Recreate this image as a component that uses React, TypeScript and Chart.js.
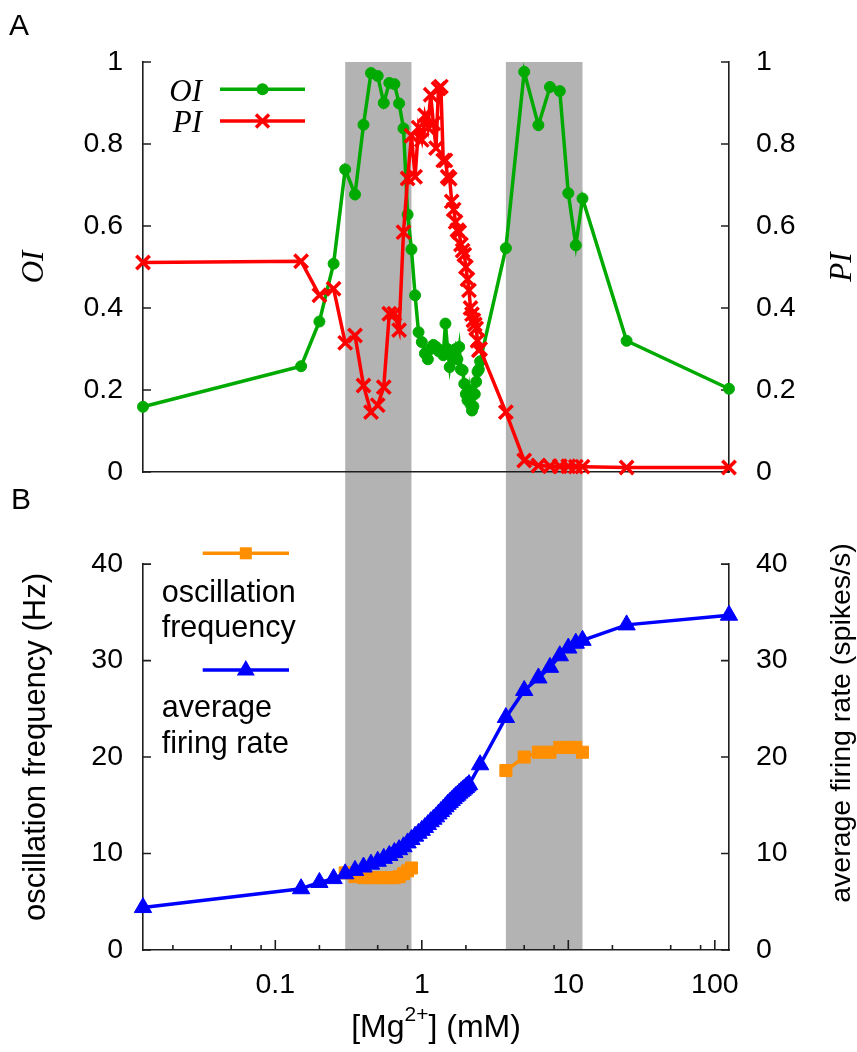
import React, { useEffect, useRef } from 'react';
import { Chart, registerables } from 'chart.js';

Chart.register(...registerables);

// ---------------- data ----------------
// [Mg2+] (mM) values of the top panel sweep
const mgTop = [
  0.0125, 0.15, 0.2, 0.25,
  0.3, 0.35, 0.4, 0.45, 0.5, 0.55, 0.6, 0.65, 0.7, 0.75,
  0.8, 0.85, 0.9, 0.95, 1.0, 1.05, 1.1, 1.15, 1.2, 1.25,
  1.3, 1.35, 1.4, 1.45, 1.5, 1.55, 1.6, 1.65, 1.7, 1.75,
  1.8, 1.85, 1.9, 1.95, 2.0, 2.05, 2.1, 2.15, 2.2, 2.25,
  2.3, 2.35, 2.4, 2.45, 2.5,
  3.75, 5, 6.25, 7.5, 8.75, 10, 11.25, 12.5, 25, 125,
];
const oiValues = [
  0.159, 0.258, 0.367, 0.508,
  0.738, 0.677, 0.847, 0.973, 0.966, 0.9, 0.949, 0.946, 0.899, 0.838,
  0.628, 0.543, 0.431, 0.341, 0.317, 0.289, 0.275, 0.3, 0.31, 0.305,
  0.295, 0.297, 0.285, 0.362, 0.3, 0.256, 0.29, 0.28, 0.3, 0.275,
  0.305, 0.25, 0.248, 0.215, 0.19, 0.175, 0.2, 0.165, 0.15, 0.16,
  0.19, 0.22, 0.245, 0.25, 0.27,
  0.546, 0.976, 0.846, 0.939, 0.929, 0.68, 0.553, 0.667, 0.32, 0.203,
];
const piValues = [
  0.511, 0.514, 0.431, 0.447,
  0.315, 0.333, 0.211, 0.146, 0.163, 0.207, 0.386, 0.386, 0.346, 0.585,
  0.716, 0.82, 0.72, 0.84, 0.81, 0.87, 0.84, 0.92, 0.85, 0.79,
  0.935, 0.94, 0.76, 0.76, 0.72, 0.715, 0.66, 0.64, 0.61, 0.59,
  0.585, 0.555, 0.54, 0.53, 0.5, 0.47, 0.443, 0.4, 0.385, 0.37,
  0.36, 0.35, 0.32, 0.297, 0.3,
  0.146, 0.028, 0.016, 0.014, 0.014, 0.014, 0.013, 0.013, 0.011, 0.011,
];

// bottom panel: average firing rate
const mgRate = [
  0.0125, 0.15, 0.2, 0.25,
  0.3, 0.35, 0.4, 0.45, 0.5, 0.55, 0.6, 0.65, 0.7, 0.75,
  0.8, 0.85, 0.9, 0.95, 1.0, 1.05, 1.1, 1.15, 1.2, 1.25,
  1.3, 1.35, 1.4, 1.45, 1.5, 1.55, 1.6, 1.65, 1.7, 1.75,
  1.8, 1.85, 1.9, 1.95, 2.0, 2.05, 2.1,
  2.5, 3.75, 5, 6.25, 7.5, 8.75, 10, 11.25, 12.5, 25, 125,
];
const rateValues = [
  4.4, 6.35, 7.0, 7.4,
  7.9, 8.25, 8.6, 8.9, 9.2, 9.5, 9.8, 10.1, 10.4, 10.7,
  11.1, 11.45, 11.8, 12.1, 12.4, 12.7, 13.0, 13.3, 13.55, 13.8,
  14.1, 14.35, 14.6, 14.85, 15.1, 15.3, 15.5, 15.7, 15.9, 16.05,
  16.25, 16.4, 16.55, 16.7, 16.85, 17.0, 17.15,
  19.2, 24.1, 26.9, 28.2, 29.3, 30.5, 31.3, 31.8, 32.1, 33.7, 34.7,
];

// bottom panel: oscillation frequency (two separate oscillatory regimes)
const mgFreqLow = [0.3, 0.35, 0.4, 0.45, 0.5, 0.55, 0.6, 0.65, 0.7, 0.75, 0.8, 0.85];
const freqLow = [8.0, 7.6, 7.5, 7.5, 7.5, 7.5, 7.5, 7.5, 7.6, 7.9, 8.2, 8.5];
const mgFreqHigh = [3.75, 5, 6.25, 7.5, 8.75, 10, 11.25, 12.5];
const freqHigh = [18.6, 20.0, 20.5, 20.5, 21.0, 21.0, 21.0, 20.5];

// shaded oscillatory ranges
const bandStart = [0.3, 3.75];
const bandEnd = [0.85, 12.5];

// ticks
const xMin = 0.0125;
const xMax = 125;
const xMajorTicks = [0.1, 1, 10, 100];
const xMinorTicks = [0.02, 0.05, 0.08, 0.2, 0.5, 0.8, 2, 5, 8, 20, 50, 80];
const indexTicks = [0, 0.2, 0.4, 0.6, 0.8, 1];
const rateTicks = [0, 10, 20, 30, 40];

// ---------------- styles ----------------
const W = 857;
const TOP_H = 520;
const BOTTOM_H = 532;
const SANS = '"Liberation Sans", Arial, Helvetica, sans-serif';
const SERIF = '"Liberation Serif", "Times New Roman", serif';
const AXIS = '#1e1e1e';
const GREEN = '#00aa00';
const RED = '#ff0000';
const BLUE = '#0000ff';
const ORANGE = '#ff8f00';
const BAND = '#b3b3b3';
const TICK_FONT = { family: SANS, size: 28.5 };
const LINE_W = 3.5;

const fmtIndex = (v: number) => String(+Number(v).toFixed(1));
const fmtPlain = (v: number) => String(v);

function yAxis(position: string, ticks: number[], padding: number, width: number, fmt: any) {
  return {
    type: 'linear',
    position,
    min: ticks[0],
    max: ticks[ticks.length - 1],
    grid: { display: false, drawTicks: false },
    border: { display: true, color: AXIS, width: 1.6 },
    ticks: { color: '#000', font: TICK_FONT, padding, callback: fmt },
    afterBuildTicks: (s: any) => {
      s.ticks = ticks.map((v) => ({ value: v }));
    },
    afterFit: (s: any) => {
      s.width = width;
    },
  };
}

function drawBands(chart: any, y0: number, y1: number) {
  const { ctx, scales } = chart;
  const x = scales.x;
  ctx.save();
  ctx.fillStyle = BAND;
  bandStart.forEach((s, i) => {
    const a = x.getPixelForValue(s);
    const b = x.getPixelForValue(bandEnd[i]);
    ctx.fillRect(a, y0, b - a, y1 - y0);
  });
  ctx.restore();
}

function drawYTicks(chart: any, id: string, values: number[], side: 'left' | 'right', len: number) {
  const { ctx, chartArea } = chart;
  const s = chart.scales[id];
  ctx.save();
  ctx.strokeStyle = AXIS;
  ctx.lineWidth = 1.6;
  ctx.beginPath();
  values.forEach((v) => {
    const y = s.getPixelForValue(v);
    if (side === 'left') {
      ctx.moveTo(chartArea.left, y);
      ctx.lineTo(chartArea.left + len, y);
    } else {
      ctx.moveTo(chartArea.right, y);
      ctx.lineTo(chartArea.right - len, y);
    }
  });
  ctx.stroke();
  ctx.restore();
}

function drawRotated(ctx: any, text: string, x: number, y: number, font: string) {
  ctx.save();
  ctx.translate(x, y);
  ctx.rotate(-Math.PI / 2);
  ctx.font = font;
  ctx.fillStyle = '#000';
  ctx.textAlign = 'center';
  ctx.textBaseline = 'alphabetic';
  ctx.fillText(text, 0, 0);
  ctx.restore();
}

function drawLegendLine(ctx: any, x0: number, x1: number, y: number, color: string) {
  ctx.save();
  ctx.strokeStyle = color;
  ctx.lineWidth = LINE_W;
  ctx.beginPath();
  ctx.moveTo(x0, y);
  ctx.lineTo(x1, y);
  ctx.stroke();
  ctx.restore();
}

const topDecor = {
  id: 'topDecor',
  beforeDraw(chart: any) {
    drawBands(chart, chart.chartArea.top, chart.height);
  },
  beforeDatasetsDraw(chart: any) {
    drawYTicks(chart, 'y', indexTicks, 'left', 8);
    drawYTicks(chart, 'y2', indexTicks, 'right', 8);
  },
  afterDraw(chart: any) {
    const { ctx } = chart;
    // panel letters
    ctx.save();
    ctx.fillStyle = '#000';
    ctx.font = `30px ${SANS}`;
    ctx.textAlign = 'left';
    ctx.textBaseline = 'alphabetic';
    ctx.fillText('A', 9, 35);
    ctx.fillText('B', 11, 509);
    // legend
    ctx.font = `italic 31px ${SERIF}`;
    ctx.textAlign = 'right';
    ctx.fillText('OI', 202, 100.5);
    ctx.fillText('PI', 202, 131.5);
    ctx.restore();
    drawLegendLine(ctx, 220, 305, 89.3, GREEN);
    ctx.save();
    ctx.fillStyle = GREEN;
    ctx.beginPath();
    ctx.arc(262.5, 89.3, 6, 0, Math.PI * 2);
    ctx.fill();
    ctx.restore();
    drawLegendLine(ctx, 220, 305, 121, RED);
    ctx.save();
    ctx.strokeStyle = RED;
    ctx.lineWidth = 3.5;
    ctx.beginPath();
    const c = 6.5;
    ctx.moveTo(262.5 - c, 121 - c);
    ctx.lineTo(262.5 + c, 121 + c);
    ctx.moveTo(262.5 - c, 121 + c);
    ctx.lineTo(262.5 + c, 121 - c);
    ctx.stroke();
    ctx.restore();
    // axis titles
    const midY = (chart.chartArea.top + chart.chartArea.bottom) / 2;
    drawRotated(ctx, 'OI', 43, midY, `italic 31px ${SERIF}`);
    drawRotated(ctx, 'PI', 851, midY, `italic 31px ${SERIF}`);
  },
};

const bottomDecor = {
  id: 'bottomDecor',
  beforeDraw(chart: any) {
    drawBands(chart, 0, chart.chartArea.bottom);
  },
  beforeDatasetsDraw(chart: any) {
    drawYTicks(chart, 'y', rateTicks, 'left', 8);
    drawYTicks(chart, 'y2', rateTicks, 'right', 8);
    const { ctx, chartArea } = chart;
    const x = chart.scales.x;
    ctx.save();
    ctx.strokeStyle = AXIS;
    ctx.lineWidth = 1.6;
    ctx.beginPath();
    xMajorTicks.forEach((v) => {
      const px = x.getPixelForValue(v);
      ctx.moveTo(px, chartArea.bottom);
      ctx.lineTo(px, chartArea.bottom - 10);
    });
    xMinorTicks.forEach((v) => {
      const px = x.getPixelForValue(v);
      ctx.moveTo(px, chartArea.bottom);
      ctx.lineTo(px, chartArea.bottom - 5);
    });
    ctx.stroke();
    ctx.restore();
  },
  afterDraw(chart: any) {
    const { ctx, chartArea } = chart;
    // legend
    drawLegendLine(ctx, 202.7, 289, 33.3, ORANGE);
    ctx.save();
    ctx.fillStyle = ORANGE;
    ctx.fillRect(245.8 - 6, 33.3 - 6, 12, 12);
    ctx.restore();
    drawLegendLine(ctx, 202.7, 289, 150, BLUE);
    ctx.save();
    ctx.fillStyle = BLUE;
    ctx.beginPath();
    ctx.moveTo(245.8, 150 - 10);
    ctx.lineTo(245.8 + 9, 150 + 5.5);
    ctx.lineTo(245.8 - 9, 150 + 5.5);
    ctx.closePath();
    ctx.fill();
    ctx.fillStyle = '#000';
    ctx.font = `30.5px ${SANS}`;
    ctx.textAlign = 'left';
    ctx.textBaseline = 'alphabetic';
    ctx.fillText('oscillation', 161.7, 81.7);
    ctx.fillText('frequency', 161.7, 117.3);
    ctx.fillText('average', 161.7, 197.3);
    ctx.fillText('firing rate', 161.7, 233.3);
    ctx.restore();
    // y titles
    drawRotated(ctx, 'oscillation frequency (Hz)', 44.5, 227, `31px ${SANS}`);
    drawRotated(ctx, 'average firing rate (spikes/s)', 850, 203, `28.5px ${SANS}`);
    // x title with superscript
    const big = `32px ${SANS}`;
    const small = `21px ${SANS}`;
    ctx.save();
    ctx.fillStyle = '#000';
    ctx.textBaseline = 'alphabetic';
    ctx.textAlign = 'left';
    ctx.font = big;
    const w1 = ctx.measureText('[Mg').width;
    const w3 = ctx.measureText('] (mM)').width;
    ctx.font = small;
    const w2 = ctx.measureText('2+').width;
    const cx = (chartArea.left + chartArea.right) / 2;
    let xx = cx - (w1 + w2 + w3) / 2;
    const base = 517;
    ctx.font = big;
    ctx.fillText('[Mg', xx, base);
    xx += w1;
    ctx.font = small;
    ctx.fillText('2+', xx, base - 16);
    xx += w2;
    ctx.font = big;
    ctx.fillText('] (mM)', xx, base);
    ctx.restore();
  },
};

function lineSet(label: string, xs: number[], ys: number[], yAxisID: string, color: string, style: string, radius: number, pbw: number, order: number) {
  return {
    label,
    data: xs.map((x, i) => ({ x, y: ys[i] })),
    xAxisID: 'x',
    yAxisID,
    borderColor: color,
    backgroundColor: color,
    borderWidth: LINE_W,
    pointStyle: style,
    pointRadius: radius,
    pointBorderWidth: pbw,
    pointBorderColor: color,
    pointBackgroundColor: color,
    tension: 0,
    fill: false,
    clip: false,
    order,
  };
}

function topConfig(): any {
  return {
    type: 'line',
    data: {
      datasets: [
        lineSet('PI', mgTop, piValues, 'y2', RED, 'crossRot', 9.5, 3.5, 0),
        lineSet('OI', mgTop, oiValues, 'y', GREEN, 'circle', 5.5, 1, 1),
      ],
    },
    options: {
      responsive: false,
      animation: false,
      devicePixelRatio: 1,
      events: [],
      layout: { padding: { top: 62, bottom: 48, left: 0, right: 0 }, autoPadding: false },
      plugins: { legend: { display: false }, tooltip: { enabled: false } },
      scales: {
        x: {
          type: 'logarithmic',
          position: 'bottom',
          min: xMin,
          max: xMax,
          grid: { display: false, drawTicks: false },
          border: { display: true, color: AXIS, width: 1.6 },
          ticks: { display: false },
          afterFit: (s: any) => {
            s.height = 0;
          },
        },
        y: yAxis('left', indexTicks, 20, 143, fmtIndex),
        y2: yAxis('right', indexTicks, 27, W - 729, fmtIndex),
      },
    },
    plugins: [topDecor],
  };
}

function bottomConfig(): any {
  return {
    type: 'line',
    data: {
      datasets: [
        lineSet('average firing rate', mgRate, rateValues, 'y2', BLUE, 'triangle', 10, 1, 0),
        lineSet('oscillation frequency', mgFreqLow, freqLow, 'y', ORANGE, 'rect', 8.5, 1, 1),
        lineSet('oscillation frequency (high)', mgFreqHigh, freqHigh, 'y', ORANGE, 'rect', 8.5, 1, 2),
      ],
    },
    options: {
      responsive: false,
      animation: false,
      devicePixelRatio: 1,
      events: [],
      layout: { padding: { top: 21, bottom: 0, left: 0, right: 0 }, autoPadding: false },
      plugins: { legend: { display: false }, tooltip: { enabled: false } },
      scales: {
        x: {
          type: 'logarithmic',
          position: 'bottom',
          min: xMin,
          max: xMax,
          grid: { display: false, drawTicks: false },
          border: { display: true, color: AXIS, width: 1.6 },
          ticks: {
            display: true,
            color: '#000',
            font: TICK_FONT,
            padding: 18,
            maxRotation: 0,
            autoSkip: false,
            callback: fmtPlain,
          },
          afterBuildTicks: (s: any) => {
            s.ticks = xMajorTicks.map((v) => ({ value: v }));
          },
          afterFit: (s: any) => {
            s.height = BOTTOM_H - (950 - TOP_H);
          },
        },
        y: yAxis('left', rateTicks, 20, 143, fmtPlain),
        y2: yAxis('right', rateTicks, 27, W - 729, fmtPlain),
      },
    },
    plugins: [bottomDecor],
  };
}

export default function App() {
  const topRef = useRef<HTMLCanvasElement>(null);
  const bottomRef = useRef<HTMLCanvasElement>(null);

  useEffect(() => {
    const top = new Chart(topRef.current as HTMLCanvasElement, topConfig());
    const bottom = new Chart(bottomRef.current as HTMLCanvasElement, bottomConfig());
    return () => {
      top.destroy();
      bottom.destroy();
    };
  }, []);

  return (
    <div style={{ position: 'absolute', left: 0, top: 0, width: W, height: TOP_H + BOTTOM_H, background: '#fff' }}>
      <canvas ref={topRef} width={W} height={TOP_H} style={{ display: 'block', width: W, height: TOP_H }} />
      <canvas ref={bottomRef} width={W} height={BOTTOM_H} style={{ display: 'block', width: W, height: BOTTOM_H }} />
    </div>
  );
}
